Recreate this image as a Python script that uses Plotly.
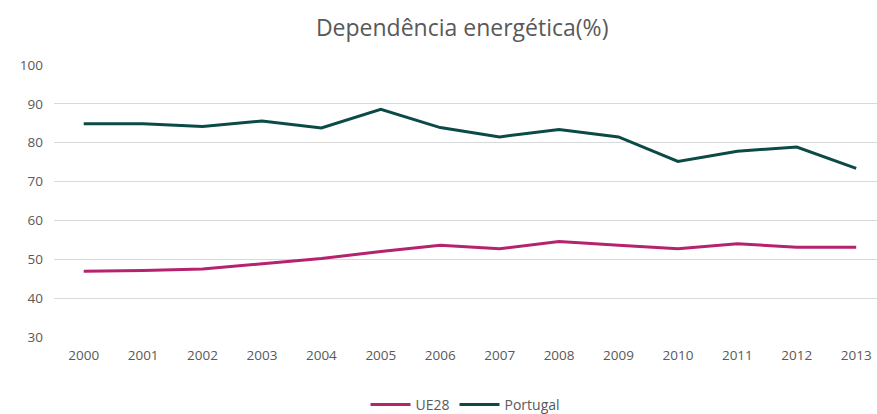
import plotly.graph_objects as go

years = [2000, 2001, 2002, 2003, 2004, 2005, 2006, 2007, 2008, 2009, 2010, 2011, 2012, 2013]
year_labels = [str(y) for y in years]
ue28 = [46.9, 47.1, 47.5, 48.8, 50.2, 52.0, 53.6, 52.7, 54.6, 53.6, 52.7, 54.0, 53.1, 53.1]
portugal = [84.9, 84.9, 84.2, 85.6, 83.8, 88.6, 83.9, 81.5, 83.4, 81.5, 75.2, 77.8, 78.9, 73.4]
y_ticks = [30, 40, 50, 60, 70, 80, 90, 100]

FONT = "'Open Sans', sans-serif"
GREY = "#595959"

fig = go.Figure()
fig.add_trace(go.Scatter(x=years, y=ue28, name="UE28", mode="lines",
                         line=dict(color="#B5236E", width=3)))
fig.add_trace(go.Scatter(x=years, y=portugal, name="Portugal", mode="lines",
                         line=dict(color="#0B4A46", width=3)))

fig.update_layout(
    width=877, height=414,
    margin=dict(l=54, r=0, t=65, b=77, autoexpand=False),
    paper_bgcolor="white", plot_bgcolor="white",
    font=dict(family=FONT, size=13, color=GREY),
    title=dict(text="Dependência energética(%)", x=0.527, xanchor="center",
               y=0.933, yanchor="middle", xref="container", yref="container",
               font=dict(family=FONT, size=23, color=GREY)),
    legend=dict(orientation="h", x=0.5, xanchor="center", y=-0.25, yanchor="middle",
                font=dict(family=FONT, size=14, color=GREY), itemwidth=40),
    showlegend=True,
)
fig.update_xaxes(range=[1999.5, 2013.35], tickvals=years, ticktext=year_labels,
                 showgrid=False, zeroline=False, showline=False, ticks="",
                 ticklabelstandoff=8, fixedrange=True, tickfont=dict(size=13.5))
fig.update_yaxes(range=[30, 100], tickvals=y_ticks, showgrid=True, gridcolor="#D9D9D9",
                 gridwidth=1, zeroline=False, showline=False, ticks="",
                 ticklabelstandoff=10, fixedrange=True, tickfont=dict(size=13.5))

fig.write_html("out.html", config={"displayModeBar": False},
               post_script="document.body.style.margin='0';document.body.style.overflow='hidden';")
